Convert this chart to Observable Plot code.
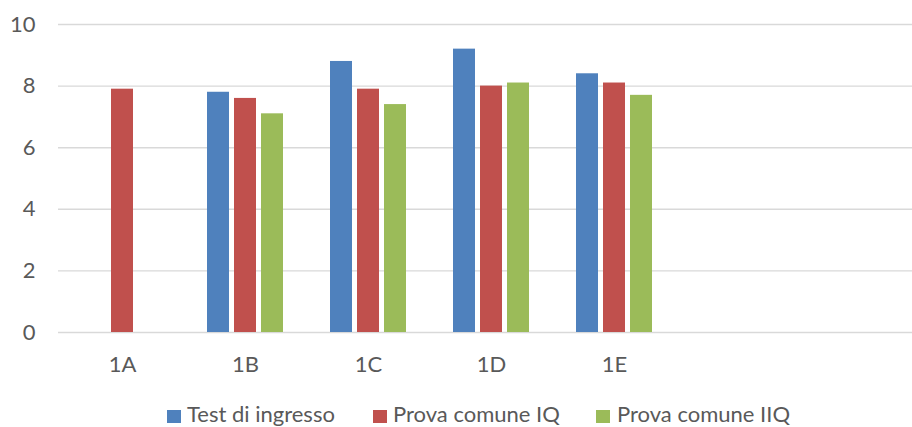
<!DOCTYPE html>
<html>
<head>
<meta charset="utf-8">
<script src="https://cdn.jsdelivr.net/npm/d3@7"></script>
<script src="https://cdn.jsdelivr.net/npm/@observablehq/plot@0.6"></script>
<style>
  html, body { margin: 0; padding: 0; background: #fff; width: 912px; height: 427px; overflow: hidden; }
  #wrap { position: relative; width: 912px; height: 427px; font-family: Lato, "Liberation Sans", sans-serif; color: #595959; }
  .sw { position: absolute; top: 410px; width: 14px; height: 13px; }
  .lt { position: absolute; top: 401px; font-size: 22px; line-height: 26px; white-space: nowrap; }
</style>
</head>
<body>
<div id="wrap"></div>
<script>
const categories = ["1A", "1B", "1C", "1D", "1E"];
const emptySlots = ["", " "];
const seriesNames = ["Test di ingresso", "Prova comune IQ", "Prova comune IIQ"];
const testIngresso = [null, 7.8, 8.8, 9.2, 8.4];
const provaIQ = [7.9, 7.6, 7.9, 8.0, 8.1];
const provaIIQ = [null, 7.1, 7.4, 8.1, 7.7];
const yTicks = [0, 2, 4, 6, 8, 10];
const colors = ["#4F81BD", "#C0504D", "#9BBB59"];

const seriesValues = [testIngresso, provaIQ, provaIIQ];
const offsets = [-27, 0, 27];
const legendSwatchX = [167, 373, 596];
const legendTextX = [187, 393, 617];

const rows = [];
seriesValues.forEach((vals, s) => {
  vals.forEach((v, i) => {
    if (v != null) rows.push({cat: categories[i], series: seriesNames[s], value: v});
  });
});

const chart = Plot.plot({
  width: 912,
  height: 385,
  marginTop: 24,
  marginBottom: 53,
  marginLeft: 58,
  marginRight: 0,
  style: {fontFamily: "Lato, 'Liberation Sans', sans-serif", fontSize: "22px", color: "#595959", background: "white", overflow: "visible"},
  x: {domain: [...categories, ...emptySlots], range: [58, 923], paddingInner: 0.825, paddingOuter: 0.4125, align: 0.5, label: null},
  y: {domain: [0, 10], label: null},
  marks: [
    Plot.ruleY(yTicks, {stroke: "#d9d9d9", strokeWidth: 1.4}),
    ...seriesNames.map((name, s) =>
      Plot.barY(rows.filter(d => d.series === name), {x: "cat", y: "value", fill: colors[s], dx: offsets[s]})
    ),
    Plot.axisY(yTicks, {tickSize: 0, tickPadding: 23, fontSize: 22, fill: "#595959", label: null}),
    Plot.axisX(categories, {tickSize: 0, tickPadding: 24, fontSize: 22, fill: "#595959", label: null})
  ]
});

const wrap = document.getElementById("wrap");
wrap.appendChild(chart);

seriesNames.forEach((name, s) => {
  const sw = document.createElement("div");
  sw.className = "sw";
  sw.style.left = legendSwatchX[s] + "px";
  sw.style.background = colors[s];
  const t = document.createElement("div");
  t.className = "lt";
  t.style.left = legendTextX[s] + "px";
  t.textContent = name;
  wrap.appendChild(sw);
  wrap.appendChild(t);
});
</script>
</body>
</html>
